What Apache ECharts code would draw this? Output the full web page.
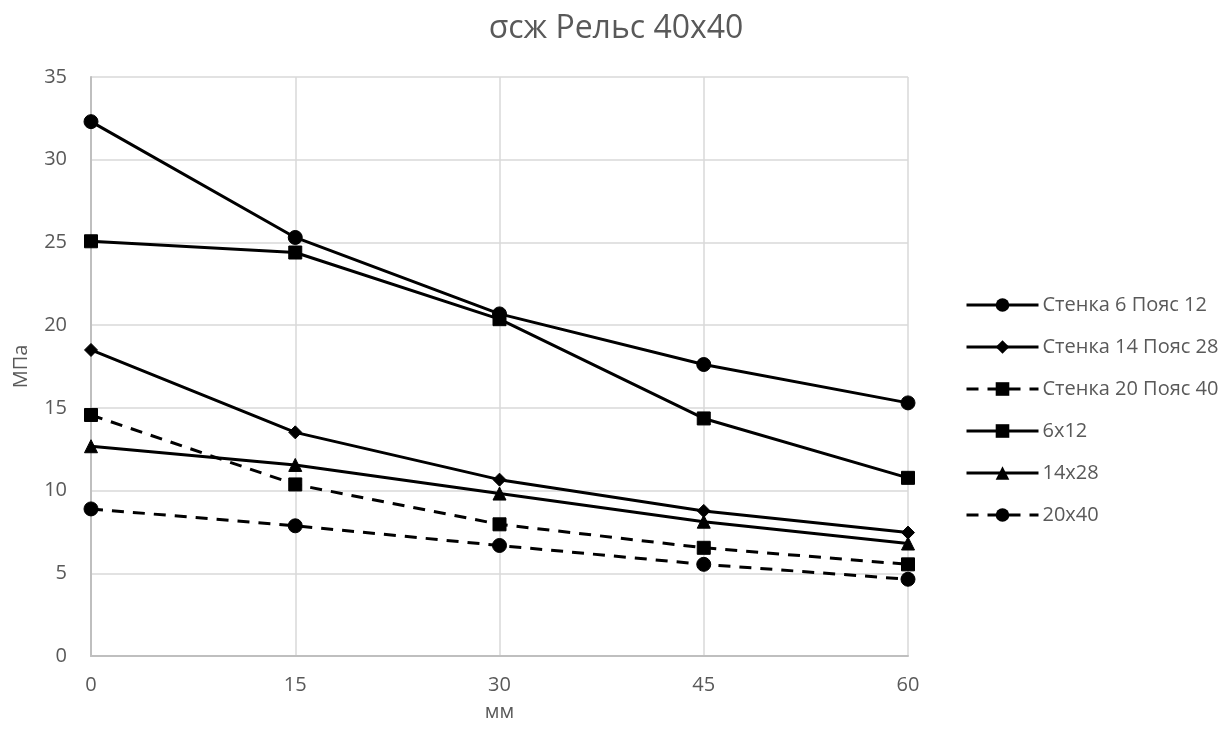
<!DOCTYPE html>
<html>
<head>
<meta charset="utf-8">
<script src="https://cdn.jsdelivr.net/npm/echarts@6/dist/echarts.min.js"></script>
<style>html,body{margin:0;padding:0;background:#fff}#c{width:1223px;height:729px}</style>
</head>
<body>
<div id="c"></div>
<script>
const xValues = [0, 15, 30, 45, 60];
const seriesNames = ['Стенка 6 Пояс 12', 'Стенка 14 Пояс 28', 'Стенка 20 Пояс 40', '6x12', '14x28', '20x40'];
const s1 = [32.3, 25.3, 20.68, 17.62, 15.3];
const s2 = [18.5, 13.52, 10.66, 8.77, 7.46];
const s3 = [14.57, 10.37, 7.96, 6.54, 5.54];
const s4 = [25.07, 24.39, 20.36, 14.36, 10.77];
const s5 = [12.68, 11.55, 9.82, 8.12, 6.8];
const s6 = [8.89, 7.87, 6.68, 5.54, 4.64];
const yTicks = [0, 5, 10, 15, 20, 25, 30, 35];

const font = '"Open Sans", "DejaVu Sans", sans-serif';
const gray = '#595959';
const symbols = ['circle', 'diamond', 'rect', 'rect', 'triangle', 'circle'];
const sizes = [14, 13, 13, 13, 13, 14];
const dashed = [false, false, true, false, false, true];
const data = [s1, s2, s3, s4, s5, s6];

const chart = echarts.init(document.getElementById('c'));
chart.setOption({
  animation: false,
  title: {
    text: 'σсж Рельс 40х40',
    left: 611, top: 8, textAlign: 'center',
    textStyle: { fontFamily: font, fontSize: 32, fontWeight: 'normal', color: gray }
  },
  legend: {
    orient: 'vertical', left: 960, top: 290,
    itemWidth: 72, itemHeight: 17, itemGap: 22,
    lineStyle: { width: 3 },
    textStyle: { fontFamily: font, fontSize: 20, color: gray, padding: [0, 0, 0, -1] },
    data: seriesNames
  },
  grid: { left: 91, right: 315, top: 77, bottom: 73 },
  xAxis: {
    type: 'value', min: 0, max: 60, interval: 15,
    name: 'мм', nameLocation: 'middle', nameGap: 46,
    nameTextStyle: { fontFamily: font, fontSize: 20, color: gray },
    axisLine: { show: true, lineStyle: { color: '#bfbfbf', width: 2 } },
    axisTick: { show: false },
    axisLabel: { fontFamily: font, fontSize: 20, color: gray, margin: 19 },
    splitLine: { show: true, lineStyle: { color: '#d9d9d9', width: 1.5 } }
  },
  yAxis: {
    type: 'value', min: yTicks[0], max: yTicks[yTicks.length - 1], interval: 5,
    name: 'МПа', nameLocation: 'middle', nameGap: 60,
    nameTextStyle: { fontFamily: font, fontSize: 20, color: gray },
    axisLine: { show: true, lineStyle: { color: '#bfbfbf', width: 2 } },
    axisTick: { show: false },
    axisLabel: { fontFamily: font, fontSize: 20, color: gray, margin: 24 },
    splitLine: { show: true, lineStyle: { color: '#d9d9d9', width: 1.5 } }
  },
  series: seriesNames.map((n, i) => ({
    name: n, type: 'line',
    data: xValues.map((x, j) => [x, data[i][j]]),
    symbol: symbols[i], symbolSize: sizes[i],
    showAllSymbol: true,
    lineStyle: { color: '#000', width: 3, type: dashed[i] ? [12, 9] : 'solid' },
    itemStyle: { color: '#000', borderColor: '#000' },
    z: 3
  }))
});
</script>
</body>
</html>
